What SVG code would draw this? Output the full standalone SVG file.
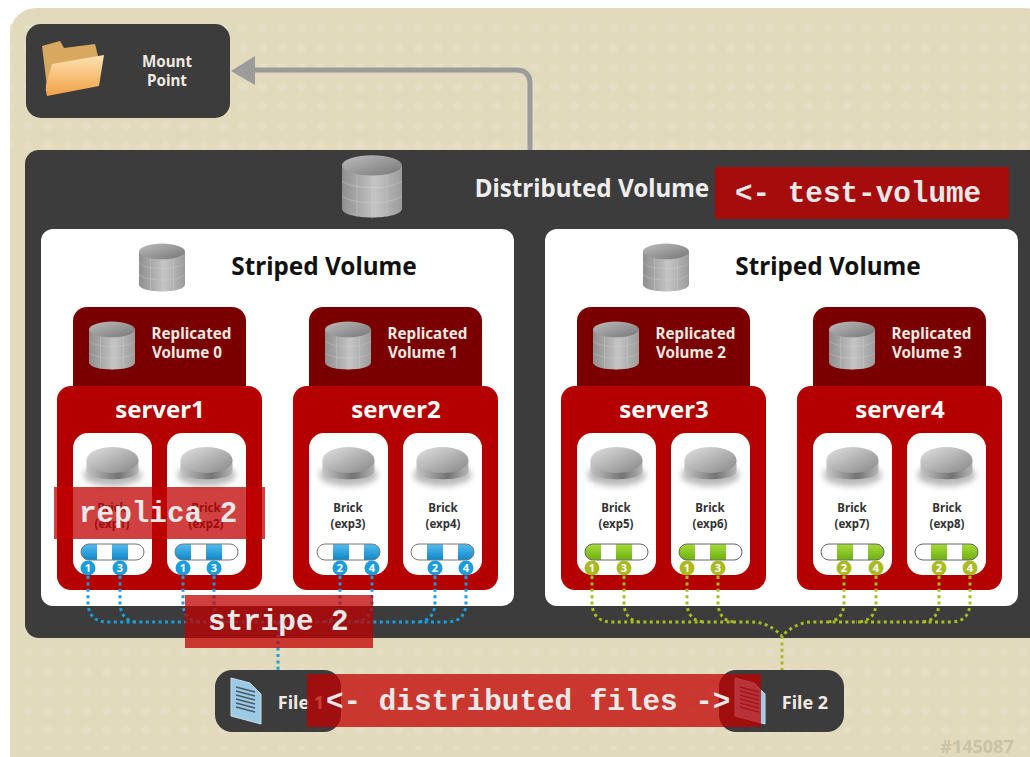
<svg xmlns="http://www.w3.org/2000/svg" width="1030" height="757" viewBox="0 0 1030 757">
<style>
text{font-family:"Noto Sans","Open Sans","DejaVu Sans",sans-serif;font-weight:700;text-anchor:middle}
.ov{font-family:"Liberation Mono",monospace;font-weight:700;fill:#e8e8e8;font-size:29.3px;text-anchor:start}
.ovb{fill:#c00000;fill-opacity:.75}
.t14{font-size:15.2px;fill:#efe9e2}
.t11{font-size:11.5px;fill:#333}
.t23{font-size:24.3px;fill:#111}
.srv{font-size:24px;fill:#fff}
.num{font-size:11px;fill:#fff}
.blue{fill:none;stroke:#1b9ddb;stroke-width:3;stroke-dasharray:3 3.4}
.green{fill:none;stroke:#a9bb22;stroke-width:3;stroke-dasharray:3 3.4}
</style>
<defs>
<pattern id="dots" width="19.5" height="19.5" patternUnits="userSpaceOnUse"><circle cx="9" cy="9" r="4.5" fill="#e5dfc6"/></pattern>
<linearGradient id="cyl" x1="0" x2="1" y1="0" y2="0"><stop offset="0" stop-color="#8f8f8f"/><stop offset=".55" stop-color="#c4c4c4"/><stop offset="1" stop-color="#9c9c9c"/></linearGradient>
<linearGradient id="cyltop" x1="0" x2="1" y1="0" y2="1"><stop offset="0" stop-color="#bcbcbc"/><stop offset="1" stop-color="#777"/></linearGradient>
<linearGradient id="disk" x1="0" x2="1" y1="0" y2="0"><stop offset="0" stop-color="#c4c4c4"/><stop offset=".6" stop-color="#737373"/><stop offset="1" stop-color="#b5b5b5"/></linearGradient>
<linearGradient id="disktop" x1="0" x2="1" y1="0" y2="1"><stop offset="0" stop-color="#e2e2e2"/><stop offset="1" stop-color="#868686"/></linearGradient>
<linearGradient id="fb" x1="0" x2="0" y1="0" y2="1"><stop offset="0" stop-color="#55bdf0"/><stop offset="1" stop-color="#0f87c9"/></linearGradient>
<linearGradient id="fg" x1="0" x2="0" y1="0" y2="1"><stop offset="0" stop-color="#a5dc3a"/><stop offset="1" stop-color="#6fb012"/></linearGradient>
<linearGradient id="fold" x1="0" x2="0" y1="0" y2="1"><stop offset="0" stop-color="#fde2b4"/><stop offset="1" stop-color="#f0a244"/></linearGradient>
<filter id="soft" x="-30%" y="-50%" width="160%" height="200%"><feGaussianBlur stdDeviation="3"/></filter>
<g id="db">
<path d="M-1 -.72V.72C-1 1.12 1 1.12 1 .72V-.72Z" fill="url(#cyl)"/>
<ellipse cx="0" cy="-.72" rx="1" ry=".34" fill="url(#cyltop)"/>
<path d="M-1 -.2C-.6 .1 .6 .1 1 -.2M-1 .3C-.6 .6 .6 .6 1 .3M-.5 -.4V1M.5 -.4V1M0 -.3V1.05" fill="none" stroke="#d8d8d8" stroke-opacity=".5" stroke-width=".025"/>
</g>
<g id="disk1">
<ellipse cx="0" cy="10" rx="29" ry="11" fill="#000" fill-opacity=".28" filter="url(#soft)"/>
<path d="M-26 -5V6C-26 17 26 17 26 6V-5Z" fill="url(#disk)"/>
<ellipse cx="0" cy="-5" rx="26" ry="13" fill="url(#disktop)"/>
</g>
<g id="file">
<path d="M0 0L19 5L30 16V46L0 38Z" fill="#9cc9e4" stroke="#c9dde8" stroke-width="1"/>
<path d="M5 9L24 14M5 13L24 18M5 17L24 22M5 21L24 26M5 25L24 30M5 29L24 34" stroke="#4a5a66" stroke-width="1.3"/>
</g>
<g id="brick"><rect width="79" height="142" rx="15" fill="#fff"/><use href="#disk1" x="39.5" y="32"/></g>
<clipPath id="pc"><rect x="0" y="0" width="63" height="16" rx="8"/></clipPath>
<g id="pillB13"><g clip-path="url(#pc)"><rect width="63" height="16" fill="#fff"/><rect width="16" height="16" fill="url(#fb)"/><rect x="31" width="16" height="16" fill="url(#fb)"/></g><rect width="63" height="16" rx="8" fill="none" stroke="#777"/></g>
<g id="pillB24"><g clip-path="url(#pc)"><rect width="63" height="16" fill="#fff"/><rect x="16" width="16" height="16" fill="url(#fb)"/><rect x="47" width="16" height="16" fill="url(#fb)"/></g><rect width="63" height="16" rx="8" fill="none" stroke="#777"/></g>
<g id="pillG13"><g clip-path="url(#pc)"><rect width="63" height="16" fill="#fff"/><rect width="16" height="16" fill="url(#fg)"/><rect x="31" width="16" height="16" fill="url(#fg)"/></g><rect width="63" height="16" rx="8" fill="none" stroke="#666"/></g>
<g id="pillG24"><g clip-path="url(#pc)"><rect width="63" height="16" fill="#fff"/><rect x="16" width="16" height="16" fill="url(#fg)"/><rect x="47" width="16" height="16" fill="url(#fg)"/></g><rect width="63" height="16" rx="8" fill="none" stroke="#666"/></g>
</defs>
<rect x="10" y="8" width="1040" height="790" rx="26" fill="#e1dabc"/>
<rect x="10" y="20" width="1020" height="130" fill="url(#dots)" opacity=".8"/>
<rect x="20" y="640" width="1010" height="110" fill="url(#dots)" opacity=".8"/>
<path d="M530 150V84Q530 70 516 70H250" fill="none" stroke="#9b9b9b" stroke-width="5"/>
<path d="M231 71L255 56V85Z" fill="#9b9b9b"/>
<g id="mount-point"><rect x="26" y="24" width="204" height="94" rx="15" fill="#3c3c3c"/>
<path d="M42 46L60 41L64 48L95 44L98 56L48 95Z" fill="#d9a860"/><path d="M52 64L104 55L99 86L47 96Q45 90 46 85Z" fill="url(#fold)"/>
<text class="t14" x="167" y="67">Mount</text><text class="t14" x="167" y="86">Point</text></g>
<g id="distributed-volume"><rect x="25" y="150" width="1030" height="488" rx="14" fill="#3c3c3c"/>
<use href="#db" transform="translate(372 187) scale(30 30)"/>
<text x="592" y="197" font-size="24.2" fill="#eee">Distributed Volume</text></g>
<g id="striped-volume-1"><rect x="41" y="229" width="473" height="377" rx="12" fill="#fff"/><use href="#db" transform="translate(162 268) scale(23 23)"/><text class="t23" x="324" y="275">Striped Volume</text></g>
<g id="striped-volume-2"><rect x="545" y="229" width="473" height="377" rx="12" fill="#fff"/><use href="#db" transform="translate(666 268) scale(23 23)"/><text class="t23" x="828" y="275">Striped Volume</text></g>
<g id="server1">
<rect x="73" y="307" width="173" height="100" rx="14" fill="#7a0000"/><use href="#db" transform="translate(112 346) scale(23 23)"/><text class="t14" x="191.500" y="339">Replicated</text><text class="t14" x="187" y="358">Volume 0</text>
<rect x="57" y="386" width="205" height="204" rx="14" fill="#b50000"/><text class="srv" x="160" y="418">server1</text>
<use href="#brick" x="73" y="433"/><use href="#brick" x="167" y="433"/>
<text class="t11" x="112" y="512">Brick</text><text class="t11" x="112" y="528">(exp1)</text><text class="t11" x="206" y="512">Brick</text><text class="t11" x="206" y="528">(exp2)</text>
<use href="#pillB13" x="81" y="544"/><use href="#pillB13" x="175" y="544"/>
<circle cx="88" cy="568" r="7.500" fill="#1b9ddb"/><text class="num" x="88" y="572">1</text><circle cx="120" cy="568" r="7.500" fill="#1b9ddb"/><text class="num" x="120" y="572">3</text><circle cx="183" cy="568" r="7.500" fill="#1b9ddb"/><text class="num" x="183" y="572">1</text><circle cx="214" cy="568" r="7.500" fill="#1b9ddb"/><text class="num" x="214" y="572">3</text>
</g>
<g id="server2">
<rect x="309" y="307" width="173" height="100" rx="14" fill="#7a0000"/><use href="#db" transform="translate(348 346) scale(23 23)"/><text class="t14" x="427.500" y="339">Replicated</text><text class="t14" x="423" y="358">Volume 1</text>
<rect x="293" y="386" width="205" height="204" rx="14" fill="#b50000"/><text class="srv" x="396" y="418">server2</text>
<use href="#brick" x="309" y="433"/><use href="#brick" x="403" y="433"/>
<text class="t11" x="348" y="512">Brick</text><text class="t11" x="348" y="528">(exp3)</text><text class="t11" x="443" y="512">Brick</text><text class="t11" x="443" y="528">(exp4)</text>
<use href="#pillB24" x="317" y="544"/><use href="#pillB24" x="411" y="544"/>
<circle cx="340" cy="568" r="7.500" fill="#1b9ddb"/><text class="num" x="340" y="572">2</text><circle cx="372" cy="568" r="7.500" fill="#1b9ddb"/><text class="num" x="372" y="572">4</text><circle cx="435" cy="568" r="7.500" fill="#1b9ddb"/><text class="num" x="435" y="572">2</text><circle cx="466" cy="568" r="7.500" fill="#1b9ddb"/><text class="num" x="466" y="572">4</text>
</g>
<g id="server3">
<rect x="577" y="307" width="173" height="100" rx="14" fill="#7a0000"/><use href="#db" transform="translate(616 346) scale(23 23)"/><text class="t14" x="695.500" y="339">Replicated</text><text class="t14" x="691" y="358">Volume 2</text>
<rect x="561" y="386" width="205" height="204" rx="14" fill="#b50000"/><text class="srv" x="664" y="418">server3</text>
<use href="#brick" x="577" y="433"/><use href="#brick" x="671" y="433"/>
<text class="t11" x="616" y="512">Brick</text><text class="t11" x="616" y="528">(exp5)</text><text class="t11" x="710" y="512">Brick</text><text class="t11" x="710" y="528">(exp6)</text>
<use href="#pillG13" x="585" y="544"/><use href="#pillG13" x="679" y="544"/>
<circle cx="592" cy="568" r="7.500" fill="#a9bb22"/><text class="num" x="592" y="572">1</text><circle cx="624" cy="568" r="7.500" fill="#a9bb22"/><text class="num" x="624" y="572">3</text><circle cx="687" cy="568" r="7.500" fill="#a9bb22"/><text class="num" x="687" y="572">1</text><circle cx="718" cy="568" r="7.500" fill="#a9bb22"/><text class="num" x="718" y="572">3</text>
</g>
<g id="server4">
<rect x="813" y="307" width="173" height="100" rx="14" fill="#7a0000"/><use href="#db" transform="translate(852 346) scale(23 23)"/><text class="t14" x="931.500" y="339">Replicated</text><text class="t14" x="927" y="358">Volume 3</text>
<rect x="797" y="386" width="205" height="204" rx="14" fill="#b50000"/><text class="srv" x="900" y="418">server4</text>
<use href="#brick" x="813" y="433"/><use href="#brick" x="907" y="433"/>
<text class="t11" x="852" y="512">Brick</text><text class="t11" x="852" y="528">(exp7)</text><text class="t11" x="947" y="512">Brick</text><text class="t11" x="947" y="528">(exp8)</text>
<use href="#pillG24" x="821" y="544"/><use href="#pillG24" x="915" y="544"/>
<circle cx="844" cy="568" r="7.500" fill="#a9bb22"/><text class="num" x="844" y="572">2</text><circle cx="876" cy="568" r="7.500" fill="#a9bb22"/><text class="num" x="876" y="572">4</text><circle cx="939" cy="568" r="7.500" fill="#a9bb22"/><text class="num" x="939" y="572">2</text><circle cx="970" cy="568" r="7.500" fill="#a9bb22"/><text class="num" x="970" y="572">4</text>
</g>
<g id="connectors">
<path class="blue" d="M88 576V605Q90 622 108 622H278M120 576V605Q122 622 138 622M183 576V605Q185 622 202 622M214 576V605Q216 622 232 622"/>
<path class="blue" d="M466 576V605Q464 622 447 622H278M435 576V605Q433 622 416 622M372 576V605Q370 622 352 622M340 576V605Q338 622 322 622M278 622V670"/>
<path class="green" d="M592 576V605Q594 622 612 622H752Q768 622 782 636M624 576V605Q626 622 642 622M687 576V605Q689 622 706 622M718 576V605Q720 622 736 622"/>
<path class="green" d="M970 576V605Q968 622 951 622H812Q796 622 782 636M939 576V605Q937 622 920 622M876 576V605Q874 622 856 622M844 576V605Q842 622 826 622M782 636V670"/>
</g>
<g id="file-1"><rect x="215" y="670" width="126" height="62" rx="17" fill="#3c3c3c"/><use href="#file" x="231" y="678"/><text class="t14" x="301" y="709" style="font-size:18px">File 1</text></g>
<g id="file-2"><rect x="719" y="670" width="125" height="62" rx="17" fill="#3c3c3c"/><use href="#file" x="735" y="678"/><text class="t14" x="805" y="709" style="font-size:18px">File 2</text></g>
<text x="977" y="753" font-size="18" fill="#c9c3a8">#145087</text>
<g id="overlays">
<rect class="ovb" x="54" y="487" width="211" height="52"/><text class="ov" x="79" y="522">replica 2</text>
<rect class="ovb" x="185" y="595" width="188" height="53"/><text class="ov" x="208" y="630">stripe 2</text>
<rect class="ovb" x="307" y="674" width="454" height="53"/><text class="ov" x="326" y="710">&lt;- distributed files -&gt;</text>
<rect x="715" y="167" width="294" height="52" fill="#a50c0c"/><text class="ov" x="735" y="202">&lt;- test-volume</text>
</g>
</svg>
